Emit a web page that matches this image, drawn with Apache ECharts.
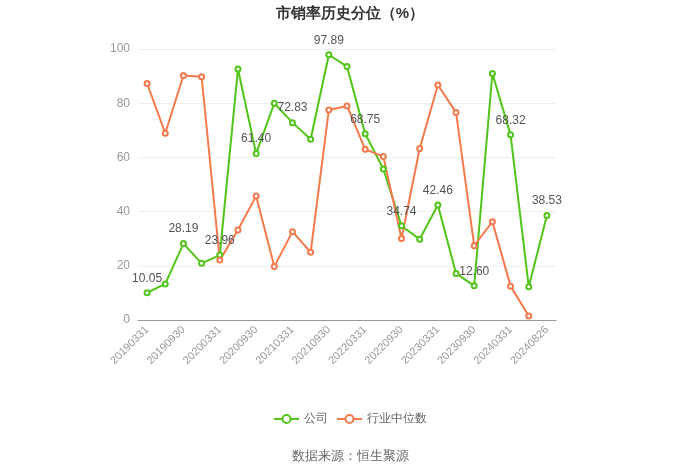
<!DOCTYPE html>
<html><head><meta charset="utf-8">
<script src="https://cdn.jsdelivr.net/npm/echarts@6/dist/echarts.min.js"></script>
<style>html,body{margin:0;padding:0;background:#fff}#c{width:700px;height:473px}</style>
</head><body><div id="c"></div>
<script>
const categories = ['20190331','20190630','20190930','20191231','20200331','20200630','20200930','20201231','20210331','20210630','20210930','20211231','20220331','20220630','20220930','20221231','20230331','20230630','20230930','20231231','20240331','20240630','20240826'];
const companyValues = [10.05,13.3,28.19,20.9,23.96,92.6,61.40,80.0,72.83,66.7,97.89,93.5,68.75,55.7,34.74,29.8,42.46,17.2,12.60,91.0,68.32,12.3,38.53];
const industryValues = [87.3,68.9,90.2,89.8,22.1,33.2,45.8,19.7,32.6,25.0,77.5,79.0,63.0,60.3,30.1,63.3,86.7,76.6,27.4,36.3,12.5,1.5,null];
const yTicks = [0,20,40,60,80,100];

const chart = echarts.init(document.getElementById('c'));
chart.setOption({
  animation:false,
  title:{text:'市销率历史分位（%）',left:'center',top:1,textStyle:{fontSize:15,fontWeight:'bold',color:'#333'}},
  legend:{bottom:43,left:'center',itemWidth:25,itemHeight:10,textStyle:{color:'#666',fontSize:12},
    data:['公司','行业中位数']},
  graphic:[{type:'text',left:'center',top:450,style:{text:'数据来源：恒生聚源',fill:'#666',fontSize:13}}],
  grid:{left:138,right:144,top:49,bottom:153},
  xAxis:{type:'category',data:categories,boundaryGap:true,
    axisLine:{lineStyle:{color:'#999'}},
    axisTick:{alignWithLabel:true,interval:1,lineStyle:{color:'#999'}},
    axisLabel:{interval:1,rotate:45,color:'#999',fontSize:11,margin:8}},
  yAxis:{type:'value',min:yTicks[0],max:yTicks[yTicks.length-1],interval:20,
    axisLine:{show:false},axisTick:{show:false},
    axisLabel:{color:'#999',fontSize:12},
    splitLine:{lineStyle:{color:'#eee'}}},
  series:[
    {name:'公司',type:'line',data:companyValues,symbol:'emptyCircle',symbolSize:5,
     itemStyle:{color:'#52c41a'},lineStyle:{width:2,color:'#52c41a'},
     label:{show:true,position:'top',color:'#555',fontSize:12,
       formatter:p=>p.dataIndex%2===0?p.value.toFixed(2):''}},
    {name:'行业中位数',type:'line',data:industryValues,symbol:'emptyCircle',symbolSize:5,
     itemStyle:{color:'#f47a4d'},lineStyle:{width:2,color:'#f47a4d'}}
  ]
});
</script></body></html>
